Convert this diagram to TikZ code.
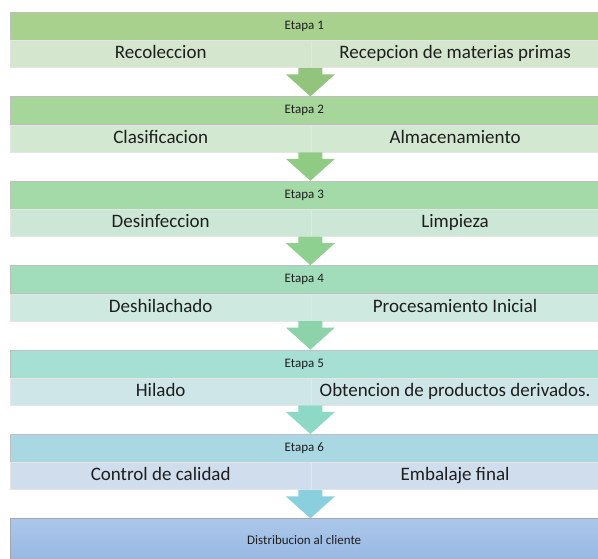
\documentclass[tikz,border=0pt]{standalone}
\usepackage{fontspec}
\setmainfont{Carlito}
\usetikzlibrary{positioning}

\definecolor{cabA}{HTML}{A9D18E}
\definecolor{cabB}{HTML}{A7D69A}
\definecolor{cabC}{HTML}{A3DAA8}
\definecolor{cabD}{HTML}{A2DDBB}
\definecolor{cabE}{HTML}{A6E0D4}
\definecolor{cabF}{HTML}{A9D8E3}
\definecolor{subA}{HTML}{D5E6CE}
\definecolor{subB}{HTML}{D2E8D1}
\definecolor{subC}{HTML}{CDE7D7}
\definecolor{subD}{HTML}{CDE9E0}
\definecolor{subE}{HTML}{CFE6E8}
\definecolor{subF}{HTML}{CFDDEC}
\definecolor{fleA}{HTML}{93C47D}
\definecolor{fleB}{HTML}{8FCB82}
\definecolor{fleC}{HTML}{8ED090}
\definecolor{fleD}{HTML}{8DD3A9}
\definecolor{fleE}{HTML}{8DD9C6}
\definecolor{fleF}{HTML}{8ACFDD}
\definecolor{distA}{HTML}{ABC7EA}
\definecolor{distB}{HTML}{97B7E1}
\definecolor{texto}{HTML}{1E1E1E}

% flecha de bloque hacia abajo, con la punta en #2
\newcommand{\flechabajo}[2]{%
\fill[#1] (#2) -- ++(-24.5,22) -- ++(12.5,0) -- ++(0,6.5) -- ++(24,0) -- ++(0,-6.5) -- ++(12.5,0) -- cycle;}

\begin{document}
\begin{tikzpicture}[x=1pt,y=1pt]
\useasboundingbox (0,0) rectangle (598,559);
\tikzstyle{etapa}=[draw=black!25, line width=0.5pt, text=texto, minimum width=588pt, minimum height=28pt, inner sep=0pt, text height=9pt, text depth=2.5pt, anchor=north west, font=\fontsize{13}{15}\selectfont];
\tikzstyle{tareaizq}=[draw=white!90!black, line width=0.4pt, text=texto, minimum width=301pt, minimum height=27pt, inner sep=0pt, text height=13pt, text depth=3.5pt, anchor=north west, font=\fontsize{19}{21}\selectfont];
\tikzstyle{tareader}=[tareaizq, minimum width=287pt];

% etapa 1
\node[etapa, fill=cabA] (e1) at (10,547) {Etapa 1};
\node[tareaizq, fill=subA] (t1a) at (e1.south west) {Recoleccion};
\node[tareader, fill=subA] (t1b) at (t1a.north east) {Recepcion de materias primas};
% etapa 2
\node[etapa, fill=cabB, below=28.5pt of t1a.south west, anchor=north west] (e2) {Etapa 2};
\node[tareaizq, fill=subB] (t2a) at (e2.south west) {Clasificacion};
\node[tareader, fill=subB] (t2b) at (t2a.north east) {Almacenamiento};
% etapa 3
\node[etapa, fill=cabC, below=28.5pt of t2a.south west, anchor=north west] (e3) {Etapa 3};
\node[tareaizq, fill=subC] (t3a) at (e3.south west) {Desinfeccion};
\node[tareader, fill=subC] (t3b) at (t3a.north east) {Limpieza};
% etapa 4
\node[etapa, fill=cabD, below=28.5pt of t3a.south west, anchor=north west] (e4) {Etapa 4};
\node[tareaizq, fill=subD] (t4a) at (e4.south west) {Deshilachado};
\node[tareader, fill=subD] (t4b) at (t4a.north east) {Procesamiento Inicial};
% etapa 5
\node[etapa, fill=cabE, below=28.5pt of t4a.south west, anchor=north west] (e5) {Etapa 5};
\node[tareaizq, fill=subE] (t5a) at (e5.south west) {Hilado};
\node[tareader, fill=subE] (t5b) at (t5a.north east) {Obtencion de productos derivados.};
% etapa 6
\node[etapa, fill=cabF, below=28.5pt of t5a.south west, anchor=north west] (e6) {Etapa 6};
\node[tareaizq, fill=subF] (t6a) at (e6.south west) {Control de calidad};
\node[tareader, fill=subF] (t6b) at (t6a.north east) {Embalaje final};
% final
\node[etapa, draw=black!35, top color=distA, bottom color=distB, minimum height=46pt, below=28.5pt of t6a.south west, anchor=north west] (dist) {Distribucion al cliente};

% flechas
\coordinate (p1) at ([xshift=-1pt]e2.north -| t1a.south east);
\coordinate (p2) at ([xshift=-1pt]e3.north -| t2a.south east);
\coordinate (p3) at ([xshift=-1pt]e4.north -| t3a.south east);
\coordinate (p4) at ([xshift=-1pt]e5.north -| t4a.south east);
\coordinate (p5) at ([xshift=-1pt]e6.north -| t5a.south east);
\coordinate (p6) at ([xshift=-1pt]dist.north -| t6a.south east);
\flechabajo{fleA}{p1}
\flechabajo{fleB}{p2}
\flechabajo{fleC}{p3}
\flechabajo{fleD}{p4}
\flechabajo{fleE}{p5}
\flechabajo{fleF}{p6}
\end{tikzpicture}
\end{document}
